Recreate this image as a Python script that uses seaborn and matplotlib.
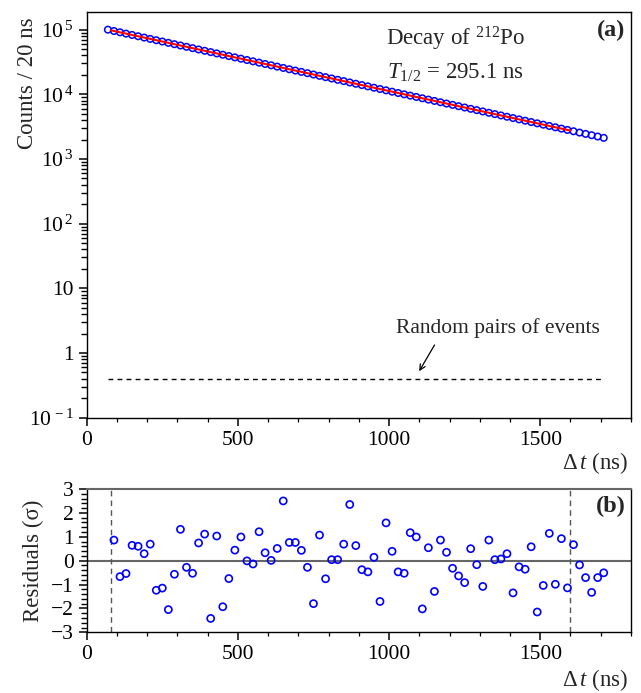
import matplotlib
matplotlib.use("Agg")
import matplotlib.pyplot as plt
import seaborn as sns
import numpy as np
import pandas as pd
from matplotlib.ticker import (MultipleLocator, FixedLocator, FixedFormatter,
                               NullFormatter)

# ---------------- data ----------------
t_counts = list(range(70, 1711, 20))  # bin centres (ns)
counts = [100000, 95411, 91033, 86855, 82869, 79066, 75438, 71976, 68673, 65522,
          62514, 59645, 56908, 54296, 51805, 49427, 47159, 44995, 42930, 40960,
          39080, 37287, 35576, 33943, 32385, 30899, 29481, 28128, 26837, 25606,
          24431, 23310, 22240, 21220, 20246, 19317, 18430, 17584, 16777, 16008,
          15273, 14572, 13903, 13265, 12657, 12076, 11522, 10993, 10488, 10007,
          9548, 9110, 8692, 8293, 7912, 7549, 7203, 6872, 6557, 6256,
          5969, 5695, 5434, 5184, 4946, 4719, 4503, 4296, 4099, 3911,
          3731, 3560, 3396, 3241, 3092, 2950, 2815, 2685, 2562, 2445,
          2333, 2226, 2124]

fit_t = [80, 1600]
fit_counts = [97680, 2750]

bg_t = [70, 1710]
bg_counts = [0.4, 0.4]

t_resid = list(range(90, 1711, 20))
resid = [0.86, -0.67, -0.54, 0.64, 0.60, 0.29, 0.69, -1.24, -1.15, -2.05,
         -0.57, 1.31, -0.28, -0.53, 0.74, 1.11, -2.42, 1.03, -1.93, -0.75,
         0.44, 0.99, -0.01, -0.14, 1.21, 0.33, 0.01, 0.51, 2.50, 0.76,
         0.76, 0.43, -0.28, -1.80, 1.07, -0.76, 0.04, 0.04, 0.69, 2.35,
         0.63, -0.38, -0.47, 0.14, -1.71, 1.58, 0.39, -0.47, -0.53, 1.17,
         0.99, -2.02, 0.54, -1.29, 0.86, 0.35, -0.32, -0.64, -0.92, 0.50,
         -0.17, -1.08, 0.86, 0.04, 0.07, 0.29, -1.35, -0.26, -0.36, 0.58,
         -2.15, -1.04, 1.14, -0.99, 0.92, -1.14, 0.67, -0.18, -0.71, -1.33,
         -0.71, -0.51]

fit_range = [80, 1600]

ytick_vals = [0.1, 1, 10, 100, 1000, 10000, 100000]
ytick_labels = [r"$10^{\,-1}$", "1", "10", r"$10^{\,2}$", r"$10^{\,3}$",
                r"$10^{\,4}$", r"$10^{\,5}$"]

# ---------------- style ----------------
sns.set_style("ticks")
plt.rcParams['font.family'] = ['Liberation Serif', 'DejaVu Serif']
plt.rcParams['mathtext.fontset'] = 'custom'
plt.rcParams['mathtext.rm'] = 'Liberation Serif'
plt.rcParams['mathtext.it'] = 'Liberation Serif:italic'
plt.rcParams['mathtext.bf'] = 'Liberation Serif:bold'
plt.rcParams['axes.edgecolor'] = 'black'
plt.rcParams['axes.linewidth'] = 1.0
plt.rcParams['xtick.color'] = 'black'
plt.rcParams['ytick.color'] = 'black'

FS = 15.5

fig = plt.figure(figsize=(6.41, 6.93), dpi=100)
ax1 = fig.add_axes([0.1353, 0.3973, 0.849, 0.5859])
ax2 = fig.add_axes([0.1353, 0.0876, 0.849, 0.2068])

# ---------------- top panel ----------------
df_c = pd.DataFrame({"t": t_counts, "c": counts})
sns.lineplot(x=fit_t, y=fit_counts, ax=ax1, color='red', linewidth=1.5, zorder=3)
sns.scatterplot(data=df_c, x="t", y="c", ax=ax1, marker='o', s=22,
                facecolors='none', edgecolor='blue', linewidth=1.1, zorder=2)
ax1.plot(bg_t, bg_counts, color='black', linestyle=(0, (3.5, 3)), linewidth=1.0)

ax1.set_yscale('log')
ax1.set_xlim(0, 1800)
ax1.set_ylim(0.1, 1.9e5)
minor_log = [m * 10.0 ** e for e in range(-1, 6) for m in range(2, 10)]
ax1.yaxis.set_major_locator(FixedLocator(ytick_vals))
ax1.yaxis.set_major_formatter(FixedFormatter(ytick_labels))
ax1.yaxis.set_minor_locator(FixedLocator(minor_log))
ax1.yaxis.set_minor_formatter(NullFormatter())
ax1.xaxis.set_major_locator(MultipleLocator(500))
ax1.xaxis.set_minor_locator(MultipleLocator(100))
ax1.tick_params(axis='both', which='major', direction='out', length=6, width=1.1,
                labelsize=FS)
ax1.tick_params(axis='x', which='minor', direction='out', length=3, width=0.9)
ax1.tick_params(axis='y', which='minor', direction='out', left=True,
                length=4, width=1.0, color='black')
ax1.set_xlabel("")
ax1.set_ylabel("Counts / 20 ns", fontsize=FS + 1)
ax1.yaxis.set_label_coords(-0.108, 0.825)
ax1.yaxis.label.set_verticalalignment('center')

ax1.text(1220, 7.2e4, r"Decay of $^{212}$Po", fontsize=FS + 1, ha='center', va='center')
ax1.text(1220, 2.12e4, r"$T_{1/2}$ = 295.1 ns", fontsize=FS + 1, ha='center', va='center')
ax1.text(0.99, 0.98, "(a)", transform=ax1.transAxes, fontsize=FS + 2,
         fontweight='bold', ha='right', va='top')
ax1.text(1360, 2.4, "Random pairs of events", fontsize=FS, ha='center', va='center')
ax1.annotate("", xy=(1095, 0.48), xytext=(1155, 1.45),
             arrowprops=dict(arrowstyle='->', color='black', lw=0.9))
fig.text(0.98, 0.332, r"$\Delta\,\mathit{t}$ (ns)", fontsize=FS + 1, ha='right', va='center')

# ---------------- bottom panel ----------------
df_r = pd.DataFrame({"t": t_resid, "r": resid})
ax2.axhline(0, color='#666666', linewidth=1.5, zorder=1)
for xv in fit_range:
    ax2.axvline(xv, color='#555555', linestyle=(0, (4, 3)), linewidth=1.0, zorder=1)
sns.scatterplot(data=df_r, x="t", y="r", ax=ax2, marker='o', s=26,
                facecolors='none', edgecolor='blue', linewidth=1.2, zorder=3)
ax2.set_xlim(0, 1800)
ax2.set_ylim(-3, 3)
ax2.xaxis.set_major_locator(MultipleLocator(500))
ax2.xaxis.set_minor_locator(MultipleLocator(100))
ax2.yaxis.set_major_locator(MultipleLocator(1))
ax2.yaxis.set_minor_locator(MultipleLocator(0.2))
ax2.tick_params(axis='both', which='major', direction='out', length=6, width=1.1,
                labelsize=FS)
ax2.tick_params(axis='x', which='minor', direction='out', length=3, width=0.9)
ax2.tick_params(axis='y', which='minor', direction='out', left=True,
                length=4, width=1.0, color='black')
ax2.spines['top'].set_color('#666666')
ax2.spines['top'].set_linewidth(1.5)
ax2.set_xlabel("")
ax2.set_ylabel("Residuals (σ)", fontsize=FS + 1)
ax2.yaxis.set_label_coords(-0.097, 0.5)
ax2.yaxis.label.set_verticalalignment('center')
ax2.text(0.99, 0.955, "(b)", transform=ax2.transAxes, fontsize=FS + 2,
         fontweight='bold', ha='right', va='top')
fig.text(0.98, 0.018, r"$\Delta\,\mathit{t}$ (ns)", fontsize=FS + 1, ha='right', va='center')

fig.savefig("out.png", dpi=100)
